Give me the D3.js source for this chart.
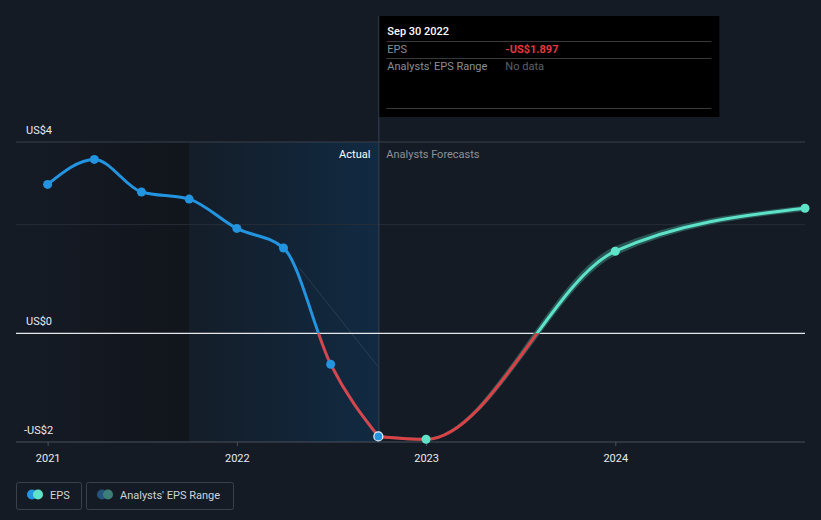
<!DOCTYPE html>
<html><head><meta charset="utf-8">
<script src="https://cdn.jsdelivr.net/npm/d3@7"></script>
<style>
html,body{margin:0;padding:0;background:#151b25;}
svg{display:block;font-family:Roboto,"Noto Sans",sans-serif;}
</style></head>
<body>
<svg id="c" width="821" height="520"></svg>
<script>
// ---- data ----
const actualDates = ["2020-12-31","2021-03-31","2021-06-30","2021-09-30","2021-12-31","2022-03-31","2022-06-30","2022-09-30"];
const actualEPS   = [2.74, 3.20, 2.60, 2.47, 1.93, 1.57, -0.57, -1.897];
const forecastDates = ["2022-09-30","2022-12-31","2023-12-31","2024-12-31"];
const forecastEPS   = [-1.897, -1.95, 1.51, 2.30];
const rangeDates = ["2022-09-30","2022-12-31","2023-12-31","2024-12-31"];
const rangeLow   = [-1.897, -1.95, 1.46, 2.28];
const rangeHigh  = [-1.897, -1.95, 1.57, 2.32];
const yTickValues = [3.52, 0, -2];
const yTickLabels = ["US$4", "US$0", "-US$2"];
const xTickYears  = ["2021","2022","2023","2024"];
const tooltipDate = "Sep 30 2022";
const tooltipEPS  = "-US$1.897";

const parse = d3.timeParse("%Y-%m-%d");
const svg = d3.select("#c");
const W = 821, H = 520;
const x = d3.scaleTime().domain([parse("2020-10-31"), parse("2024-12-31")]).range([16, 805]);
const y = d3.scaleLinear().domain([-2, 3.52]).range([442, 142]);

const defs = svg.append("defs");
const g1 = defs.append("linearGradient").attr("id","gPast").attr("x1",0).attr("x2",1);
g1.append("stop").attr("offset",0).attr("stop-color","#151b25");
g1.append("stop").attr("offset",1).attr("stop-color","#11151c");
const g2 = defs.append("linearGradient").attr("id","gYear").attr("x1",0).attr("x2",1);
g2.append("stop").attr("offset",0).attr("stop-color","#141d28");
g2.append("stop").attr("offset",1).attr("stop-color","#112a42");

const xPastStart = x(parse("2020-10-31")), xYear = x(parse("2021-09-30")), xNow = x(parse("2022-09-30"));
svg.append("rect").attr("x",xPastStart).attr("y",y(3.52)).attr("width",xYear-xPastStart).attr("height",y(-2)-y(3.52)).attr("fill","url(#gPast)");
svg.append("rect").attr("x",xYear).attr("y",y(3.52)).attr("width",xNow-xYear).attr("height",y(-2)-y(3.52)).attr("fill","url(#gYear)");

// gridlines
svg.append("line").attr("x1",16).attr("x2",805).attr("y1",y(3.52)).attr("y2",y(3.52)).attr("stroke","#3a414c");
svg.append("line").attr("x1",16).attr("x2",805).attr("y1",y(2)).attr("y2",y(2)).attr("stroke","#262d38");
svg.append("line").attr("x1",16).attr("x2",805).attr("y1",y(-2)).attr("y2",y(-2)).attr("stroke","#4a515c");

// faint diagonal guide
svg.append("line").attr("x1",x(parse("2022-05-01"))).attr("y1",y(1.2)).attr("x2",xNow).attr("y2",y(-0.62))
  .attr("stroke","#3a4c5e").attr("stroke-width",0.8).attr("opacity",0.8);

// vertical marker line
svg.append("line").attr("x1",xNow+0.5).attr("x2",xNow+0.5).attr("y1",16).attr("y2",y(-2)).attr("stroke","#344456").attr("stroke-width",1);

// zero line
svg.append("line").attr("x1",16).attr("x2",805).attr("y1",y(0)).attr("y2",y(0)).attr("stroke","#e6e8eb").attr("stroke-width",1.3);

// y labels
svg.selectAll("text.ylab").data(yTickValues).enter().append("text")
  .attr("x",(d,i)=> i===2 ? 24 : 26).attr("y",d=>y(d)-8).text((d,i)=>yTickLabels[i])
  .attr("fill","#e8eaed").attr("font-size",11);

// x axis ticks & labels
xTickYears.forEach(t=>{
  const xx = x(parse(t+"-01-01"));
  svg.append("line").attr("x1",xx).attr("x2",xx).attr("y1",y(-2)).attr("y2",y(-2)+4).attr("stroke","#4a515c");
  svg.append("text").attr("x",xx).attr("y",y(-2)+20).attr("text-anchor","middle").attr("fill","#e8eaed").attr("font-size",11).text(t);
});

// clip paths
const zeroY = y(0);
defs.append("clipPath").attr("id","above").append("rect").attr("x",0).attr("y",0).attr("width",W).attr("height",zeroY);
defs.append("clipPath").attr("id","below").append("rect").attr("x",0).attr("y",zeroY).attr("width",W).attr("height",H-zeroY);

const aData = actualDates.map((d,i)=>({d:parse(d),v:actualEPS[i]}));
const fData = forecastDates.map((d,i)=>({d:parse(d),v:forecastEPS[i]}));
const rData = rangeDates.map((d,i)=>({d:parse(d),lo:rangeLow[i],hi:rangeHigh[i]}));

const line = d3.line().x(d=>x(d.d)).y(d=>y(d.v)).curve(d3.curveMonotoneX);
const area = d3.area().x(d=>x(d.d)).y0(d=>y(d.lo)).y1(d=>y(d.hi)).curve(d3.curveMonotoneX);

// analyst range band
svg.append("path").attr("d",area(rData)).attr("fill","#2e6562").attr("stroke","#2e6562").attr("stroke-width",3).attr("stroke-linejoin","round").attr("opacity",0.8);

// forecast line
svg.append("path").attr("d",line(fData)).attr("fill","none").attr("stroke","#5ee3c9").attr("stroke-width",3).attr("clip-path","url(#above)");
svg.append("path").attr("d",line(fData)).attr("fill","none").attr("stroke","#dc4145").attr("stroke-width",3).attr("clip-path","url(#below)");

// actual line
svg.append("path").attr("d",line(aData)).attr("fill","none").attr("stroke","#2394df").attr("stroke-width",3).attr("clip-path","url(#above)");
svg.append("path").attr("d",line(aData)).attr("fill","none").attr("stroke","#d3474e").attr("stroke-width",3).attr("clip-path","url(#below)");

// dots
svg.selectAll("circle.a").data(aData.slice(0,-1)).enter().append("circle")
  .attr("cx",d=>x(d.d)).attr("cy",d=>y(d.v)).attr("r",4.5).attr("fill","#2394df");
svg.selectAll("circle.f").data(fData.slice(1)).enter().append("circle")
  .attr("cx",d=>x(d.d)).attr("cy",d=>y(d.v)).attr("r",4.5).attr("fill","#5ee3c9");
const last = aData[aData.length-1];
svg.append("circle").attr("cx",x(last.d)).attr("cy",y(last.v)).attr("r",4.5).attr("fill","#2394df").attr("stroke","#e8f2fb").attr("stroke-width",1.2);

// section labels
svg.append("text").attr("x",xNow-8).attr("y",158).attr("text-anchor","end").attr("fill","#ffffff").attr("font-size",11).text("Actual");
svg.append("text").attr("x",xNow+8).attr("y",158).attr("fill","#8c929b").attr("font-size",11).text("Analysts Forecasts");

// tooltip
const tx = xNow+1;
svg.append("rect").attr("x",tx).attr("y",16).attr("width",340).attr("height",101).attr("fill","#000");
svg.append("text").attr("x",tx+8).attr("y",35).attr("fill","#fff").attr("font-size",11).attr("font-weight",500).text(tooltipDate);
[41,58,108].forEach(yy=>svg.append("line").attr("x1",tx+7).attr("x2",tx+332).attr("y1",yy+0.5).attr("y2",yy+0.5).attr("stroke","#3a3a3a"));
svg.append("text").attr("x",tx+8).attr("y",53).attr("fill","#8a8f96").attr("font-size",11).text("EPS");
svg.append("text").attr("x",tx+126).attr("y",53).attr("fill","#e5373e").attr("font-size",11).attr("font-weight",700).text(tooltipEPS);
svg.append("text").attr("x",tx+8).attr("y",70).attr("fill","#8a8f96").attr("font-size",11).text("Analysts' EPS Range");
svg.append("text").attr("x",tx+126).attr("y",70).attr("fill","#5c6168").attr("font-size",11).text("No data");

// legend
const lg = svg.append("g");
lg.append("rect").attr("x",16.5).attr("y",482.5).attr("width",65).attr("height",27).attr("rx",2).attr("fill","none").attr("stroke","#3a414c");
lg.append("circle").attr("cx",32).attr("cy",494.5).attr("r",5).attr("fill","#2394df");
lg.append("circle").attr("cx",38).attr("cy",494.5).attr("r",5).attr("fill","#5ee3c9");
lg.append("text").attr("x",50).attr("y",498.5).attr("fill","#d0d3d8").attr("font-size",11).text("EPS");
lg.append("rect").attr("x",86.5).attr("y",482.5).attr("width",147).attr("height",27).attr("rx",2).attr("fill","none").attr("stroke","#3a414c");
lg.append("circle").attr("cx",102).attr("cy",494.5).attr("r",5).attr("fill","#24547e");
lg.append("circle").attr("cx",108).attr("cy",494.5).attr("r",5).attr("fill","#3b7f78");
lg.append("text").attr("x",120).attr("y",498.5).attr("fill","#d0d3d8").attr("font-size",11).text("Analysts' EPS Range");
</script>
</body></html>
